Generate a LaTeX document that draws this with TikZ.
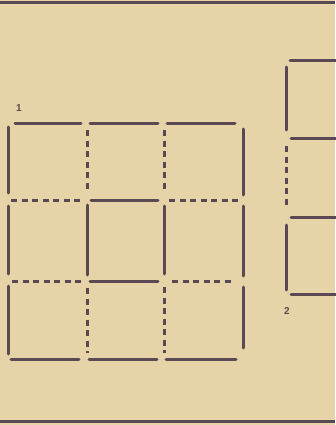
\documentclass[tikz,border=0pt]{standalone}
\usepackage{fontspec}
\setmainfont{Liberation Sans}
\usetikzlibrary{calc}
\definecolor{paper}{HTML}{E6D3A8}
\definecolor{ink}{HTML}{5A4852}
\tikzset{
  wall/.style={draw=ink,line width=3pt,line cap=round},
  dwall/.style={draw=ink,line width=3pt,dash pattern=on 6pt off 4.5pt},
  frame/.style={draw=ink,line width=3pt},
  lbl/.style={text=ink,font=\bfseries\fontsize{10}{11}\selectfont,inner sep=0pt}
}
\begin{document}
\begin{tikzpicture}[x=1pt,y=-1pt]
\fill[paper] (0,0) rectangle (335,425);
\useasboundingbox (0,0) rectangle (335,425);
% frame
\coordinate (ftl) at (0,3); \coordinate (ftr) at (335,3);
\coordinate (fbl) at (0,421); \coordinate (fbr) at (335,421);
\draw[frame] (ftl) -- (ftr);
\draw[frame] (fbl) -- (fbr);
% grid 1 corner coordinates
\foreach \i/\x in {0/8,1/87,2/164,3/243}{
  \foreach \j/\y in {0/123,1/200,2/281,3/359}{
    \coordinate (g\i\j) at (\x,\y);
  }
}
% horizontals
\draw[wall] ($(g00)+(7,0)$) -- ($(g10)+(-6,0)$);
\draw[wall] ($(g10)+(3,0)$) -- ($(g20)+(-6,0)$);
\draw[wall] ($(g20)+(3,0)$) -- ($(g30)+(-8,0)$);
\draw[dwall] ($(g01)+(3,0)$) -- ($(g11)+(-4,0)$);
\draw[wall] ($(g11)+(4,0)$) -- ($(g21)+(-6,0)$);
\draw[dwall] ($(g21)+(5,0)$) -- ($(g31)+(-4,0)$);
\draw[dwall] ($(g02)+(4,0)$) -- ($(g12)+(-4,0)$);
\draw[wall] ($(g12)+(3,0)$) -- ($(g22)+(-6,0)$);
\draw[dwall] ($(g22)+(8,0)$) -- ($(g32)+(-11,0)$);
\draw[wall] ($(g03)+(3,0)$) -- ($(g13)+(-8,0)$);
\draw[wall] ($(g13)+(2,0)$) -- ($(g23)+(-7,0)$);
\draw[wall] ($(g23)+(2,0)$) -- ($(g33)+(-7,0)$);
% verticals
\draw[wall] ($(g00)+(0,4)$) -- ($(g01)+(0,-7)$);
\draw[dwall] ($(g10)+(0,7)$) -- ($(g11)+(0,-8)$);
\draw[dwall] ($(g20)+(0,7)$) -- ($(g21)+(0,-8)$);
\draw[wall] ($(g30)+(0,6)$) -- ($(g31)+(0,-5)$);
\draw[wall] ($(g01)+(0,6)$) -- ($(g02)+(0,-7)$);
\draw[wall] ($(g11)+(0,5)$) -- ($(g12)+(0,-6)$);
\draw[wall] ($(g21)+(0,6)$) -- ($(g22)+(0,-7)$);
\draw[wall] ($(g31)+(0,6)$) -- ($(g32)+(0,-5)$);
\draw[wall] ($(g02)+(0,5)$) -- ($(g03)+(0,-5)$);
\draw[dwall] ($(g12)+(0,7)$) -- ($(g13)+(0,-6)$);
\draw[dwall] ($(g22)+(0,6)$) -- ($(g23)+(0,-6)$);
\draw[wall] ($(g32)+(0,6)$) -- ($(g33)+(0,-11)$);
% grid 2
\foreach \j/\y in {0/61,1/138,2/217,3/294}{
  \coordinate (h\j) at (286,\y);
  \coordinate (e\j) at (340,\y);
}
\draw[wall] ($(h0)+(4,0)$) -- (e0);
\draw[wall] ($(h1)+(5,0)$) -- (e1);
\draw[wall] ($(h2)+(5,0)$) -- (e2);
\draw[wall] ($(h3)+(5,0)$) -- (e3);
\draw[wall] ($(h0)+(0,6)$) -- ($(h1)+(0,-8)$);
\draw[dwall] ($(h1)+(0,8)$) -- ($(h2)+(0,-10)$);
\draw[wall] ($(h2)+(0,8)$) -- ($(h3)+(0,-4)$);
% labels
\node[lbl] (l1) at (19,108) {1};
\node[lbl] (l2) at (287,311) {2};
\end{tikzpicture}
\end{document}
